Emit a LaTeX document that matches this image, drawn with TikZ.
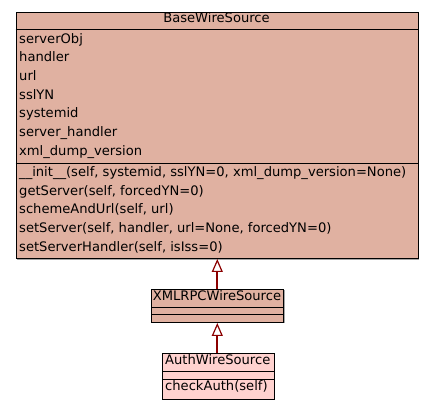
\documentclass[tikz,border=0pt]{standalone}
\usepackage{fontspec}
\setmainfont{DejaVu Sans}
\usetikzlibrary{arrows.meta}
\definecolor{basefill}{HTML}{E0B1A1}
\definecolor{authfill}{HTML}{FFD2CF}
\definecolor{arrowred}{HTML}{8B0000}
\begin{document}
\begin{tikzpicture}[x=1pt,y=-1pt,font=\fontsize{13.1}{15}\selectfont]
\tikzset{
  box/.style={draw=black, line width=1pt, inner sep=0pt, anchor=north west},
  shadowbox/.style={fill=black!35, draw=none},
  txt/.style={anchor=base west, inner sep=0pt},
  ttl/.style={anchor=base, inner sep=0pt},
  inherit/.style={draw=arrowred, line width=2pt, -{Triangle[open, length=13pt, width=11pt, line width=1.2pt, fill=white]}},
  divider/.style={line width=0.9pt}
}
\useasboundingbox (0,0) rectangle (432,411);
% shadows
\fill[shadowbox] (16.5,13.5) rectangle (419,260);
\fill[shadowbox] (152,290.5) rectangle (284.5,323.5);
\fill[shadowbox] (163,354.5) rectangle (275,400.5);
% BaseWireSource
\node[box, fill=basefill, minimum width=402pt, minimum height=246pt] (base) at (15.5,12) {};
\draw[divider] (base.west |- 0,29) -- (base.east |- 0,29);
\draw[divider] (base.west |- 0,163) -- (base.east |- 0,163);
\node[ttl] (baset) at (216.5,23) {BaseWireSource};
\node[txt] (a1) at (19,43.3) {serverObj};
\node[txt] (a2) at (19,62) {handler};
\node[txt] (a3) at (19,80.7) {url};
\node[txt] (a4) at (19,99.4) {sslYN};
\node[txt] (a5) at (19,118) {systemid};
\node[txt] (a6) at (19,136.7) {server\_handler};
\node[txt] (a7) at (19,155.3) {xml\_dump\_version};
\node[txt] (m1) at (19,176.7) {\_\_init\_\_(self, systemid, sslYN=0, xml\_dump\_version=None)};
\node[txt] (m2) at (19,195.3) {getServer(self, forcedYN=0)};
\node[txt] (m3) at (19,214) {schemeAndUrl(self, url)};
\node[txt] (m4) at (19,232.7) {setServer(self, handler, url=None, forcedYN=0)};
\node[txt] (m5) at (19,251.3) {setServerHandler(self, isIss=0)};
% XMLRPCWireSource
\node[box, fill=basefill, minimum width=132pt, minimum height=33pt] (xml) at (151,289) {};
\draw[divider] (xml.west |- 0,307) -- (xml.east |- 0,307);
\draw[divider] (xml.west |- 0,314.5) -- (xml.east |- 0,314.5);
\node[ttl] (xmlt) at (217,300.7) {XMLRPCWireSource};
% AuthWireSource
\node[box, fill=authfill, minimum width=111.5pt, minimum height=46pt] (auth) at (162,353) {};
\draw[divider] (auth.west |- 0,371) -- (auth.east |- 0,371);
\draw[divider] (auth.west |- 0,379) -- (auth.east |- 0,379);
\node[ttl] (autht) at (217.75,364.3) {AuthWireSource};
\node[txt] (am1) at (165,390.7) {checkAuth(self)};
% inheritance arrows
\draw[inherit] (xml.north -| 217.3,0) -- (base.south -| 217.3,0);
\draw[inherit] (auth.north -| 217.3,0) -- (xml.south -| 217.3,0);
\end{tikzpicture}
\end{document}
